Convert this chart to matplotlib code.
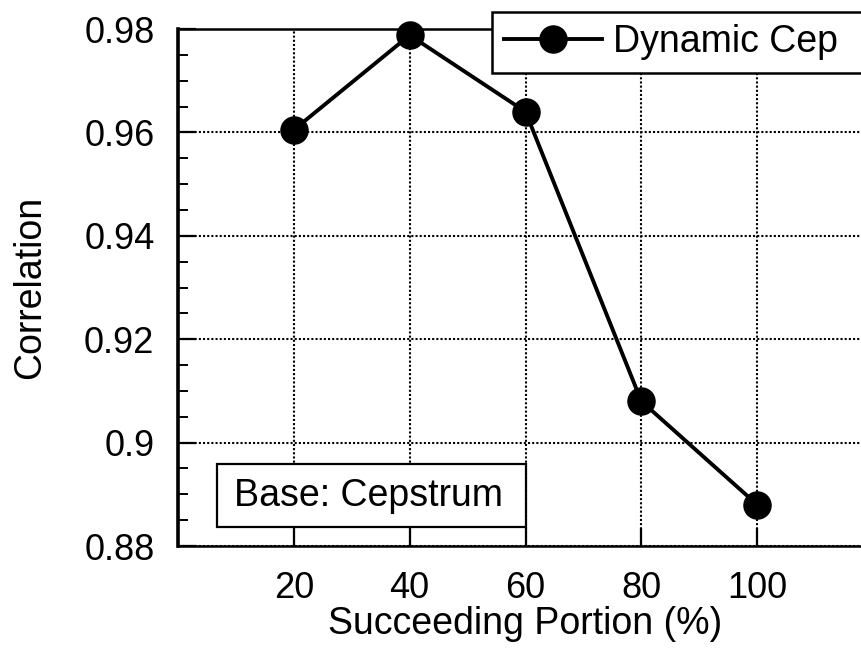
import matplotlib
matplotlib.use("Agg")
import matplotlib.pyplot as plt
from matplotlib.ticker import MultipleLocator
from matplotlib.patches import Rectangle

plt.rcParams['font.family'] = ['Liberation Sans', 'DejaVu Sans']

portion = [20, 40, 60, 80, 100]
correlation = [0.9605, 0.9788, 0.9640, 0.9080, 0.8880]
series_label = "Dynamic Cep"
x_label = "Succeeding Portion (%)"
y_label = "Correlation"
note = "Base: Cepstrum"
x_ticks = [20, 40, 60, 80, 100]
y_ticks = [0.88, 0.9, 0.92, 0.94, 0.96, 0.98]
y_tick_labels = ["0.88", "0.9", "0.92", "0.94", "0.96", "0.98"]

fig = plt.figure(figsize=(8.62, 6.5), dpi=100)
W, H = 862, 650
l, r, b, t = 178, 873, 546, 29
ax = fig.add_axes([l / W, 1 - b / H, (r - l) / W, (b - t) / H])

ax.plot(portion, correlation, color='black', lw=2.8, marker='o',
        markersize=19.5, label=series_label, zorder=3, clip_on=False)

ax.set_xlim(0, 120)
ax.set_ylim(0.88, 0.98)
ax.set_xticks(x_ticks)
ax.set_yticks(y_ticks)
ax.set_yticklabels(y_tick_labels)
ax.yaxis.set_minor_locator(MultipleLocator(0.005))

tfs = 26
fs = 27
ax.tick_params(axis='both', which='major', direction='in', labelsize=tfs,
               width=1.6, color='black', length=13)
ax.tick_params(axis='y', which='major', pad=17)
ax.tick_params(axis='x', which='major', pad=18)
ax.tick_params(axis='y', which='minor', direction='in', length=7, width=1.4)
ax.tick_params(top=False, right=False)

ax.grid(True, which='major', linestyle=(0, (1, 1)), color='black', lw=1.5)
ax.set_axisbelow(True)

for side in ['top', 'bottom', 'right']:
    ax.spines[side].set_linewidth(1.8)
ax.spines['left'].set_linewidth(2.6)

ax.set_xlabel(x_label, fontsize=fs, labelpad=0)
ax.set_ylabel(y_label, fontsize=fs, labelpad=26)

axw, axh = r - l, b - t
leg = ax.legend(loc='upper left', mode='expand',
                bbox_to_anchor=((492 - l) / axw, (b - 12) / axh - 0.01, (900 - 492) / axw, 0.01),
                fontsize=fs, frameon=True, fancybox=False, framealpha=1,
                edgecolor='black', handlelength=2.6, handletextpad=0.3,
                borderpad=0.33, borderaxespad=0)
leg.get_frame().set_linewidth(1.8)
leg.set_zorder(5)

# note box (layout only)
bx0, bx1, by0, by1 = 217, 526, 527, 464
ax.add_patch(Rectangle(((bx0 - l) / axw, (b - by0) / axh),
                       (bx1 - bx0) / axw, (by0 - by1) / axh,
                       transform=ax.transAxes, facecolor='white',
                       edgecolor='black', lw=1.6, zorder=5, clip_on=False))
ax.text((234 - l) / axw, (b - 495.5) / axh, note, transform=ax.transAxes,
        fontsize=fs, va='center', ha='left', zorder=6)

fig.savefig('out.png', dpi=100)
